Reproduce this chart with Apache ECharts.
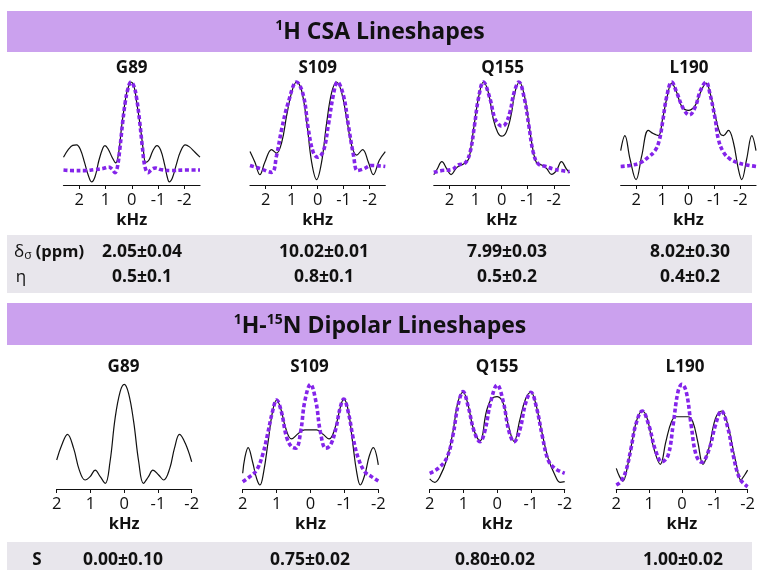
<!DOCTYPE html>
<html>
<head>
<meta charset="utf-8">
<script src="https://cdn.jsdelivr.net/npm/echarts@6/dist/echarts.min.js"></script>
<style>
html,body{margin:0;padding:0;background:#fff;}
#chart{width:758px;height:570px;}
</style>
</head>
<body>
<div id="chart"></div>
<script>
// ---------- data ----------
const residues = ['G89', 'S109', 'Q155', 'L190'];
const tickValues = [2, 1, 0, -1, -2];
const csaDelta = ['2.05±0.04', '10.02±0.01', '7.99±0.03', '8.02±0.30'];
const csaEta = ['0.5±0.1', '0.8±0.1', '0.5±0.2', '0.4±0.2'];
const dipS = ['0.00±0.10', '0.75±0.02', '0.80±0.02', '1.00±0.02'];

// 1H CSA lineshapes: [kHz, normalized intensity]
const csaG89Exp = [[2.6,0.27],[2.4,0.35],[2.25,0.385],[2.1,0.39],[1.95,0.34],[1.8,0.22],[1.65,0.09],[1.53,0.03],[1.4,0.08],[1.25,0.24],[1.1,0.36],[1.02,0.383],[0.9,0.35],[0.75,0.27],[0.61,0.214],[0.5,0.31],[0.38,0.58],[0.27,0.78],[0.19,0.9],[0.1,0.97],[0.03,1.0],[-0.05,0.98],[-0.12,0.92],[-0.19,0.8],[-0.28,0.65],[-0.36,0.5],[-0.45,0.32],[-0.53,0.22],[-0.65,0.24],[-0.8,0.33],[-0.96,0.383],[-1.1,0.34],[-1.25,0.2],[-1.35,0.08],[-1.43,0.03],[-1.55,0.07],[-1.7,0.2],[-1.85,0.32],[-2.04,0.39],[-2.2,0.37],[-2.4,0.32],[-2.6,0.27]];
const csaG89Sim = [[2.6,0.145],[2.2,0.14],[1.8,0.14],[1.4,0.15],[1.1,0.16],[0.88,0.175],[0.75,0.155],[0.64,0.12],[0.55,0.17],[0.45,0.36],[0.35,0.6],[0.25,0.8],[0.15,0.93],[0.03,1.0],[-0.08,0.96],[-0.18,0.85],[-0.3,0.62],[-0.4,0.38],[-0.5,0.18],[-0.62,0.12],[-0.75,0.15],[-0.9,0.165],[-1.1,0.15],[-1.5,0.14],[-2.0,0.145],[-2.6,0.145]];
const csaS109Exp = [[2.6,0.325],[2.41,0.22],[2.22,0.1],[2.03,0.22],[1.77,0.344],[1.58,0.31],[1.38,0.415],[1.19,0.675],[1.0,0.9],[0.81,1.0],[0.62,0.92],[0.42,0.61],[0.23,0.22],[0.04,0.052],[-0.15,0.22],[-0.35,0.61],[-0.54,0.9],[-0.73,1.0],[-0.92,0.9],[-1.12,0.64],[-1.31,0.38],[-1.5,0.29],[-1.73,0.344],[-1.95,0.22],[-2.14,0.1],[-2.37,0.24],[-2.6,0.325]];
const csaS109Sim = [[2.6,0.19],[2.22,0.16],[1.77,0.123],[1.58,0.286],[1.38,0.545],[1.13,0.8],[0.81,1.0],[0.55,0.87],[0.36,0.545],[0.17,0.318],[0,0.27],[-0.22,0.33],[-0.41,0.58],[-0.6,0.87],[-0.76,1.0],[-0.99,0.87],[-1.18,0.58],[-1.38,0.286],[-1.53,0.14],[-1.76,0.156],[-2.08,0.19],[-2.6,0.18]];
const csaQ155Exp = [[2.6,0.1],[2.48,0.15],[2.29,0.227],[2.1,0.156],[1.94,0.1],[1.72,0.17],[1.46,0.205],[1.27,0.25],[1.15,0.415],[1.02,0.64],[0.87,0.87],[0.7,1.0],[0.51,0.9],[0.32,0.64],[0.15,0.51],[0,0.474],[-0.17,0.51],[-0.36,0.675],[-0.51,0.9],[-0.68,1.0],[-0.87,0.87],[-1.02,0.64],[-1.17,0.383],[-1.34,0.214],[-1.53,0.195],[-1.72,0.162],[-1.91,0.104],[-2.1,0.14],[-2.29,0.227],[-2.48,0.156],[-2.6,0.117]];
const csaQ155Sim = [[2.6,0.123],[2.29,0.14],[1.91,0.15],[1.66,0.195],[1.4,0.214],[1.21,0.318],[1.04,0.58],[0.89,0.84],[0.7,1.0],[0.45,0.84],[0.28,0.66],[0.13,0.594],[0,0.57],[-0.15,0.594],[-0.32,0.71],[-0.48,0.9],[-0.66,1.0],[-0.87,0.84],[-1.04,0.58],[-1.21,0.318],[-1.4,0.205],[-1.66,0.182],[-1.97,0.156],[-2.29,0.14],[-2.6,0.13]];
const csaL190Exp = [[2.6,0.334],[2.44,0.48],[2.24,0.25],[2.01,0.052],[1.79,0.286],[1.54,0.53],[1.35,0.5],[1.15,0.48],[0.99,0.643],[0.83,0.84],[0.64,0.99],[0.45,0.9],[0.26,0.766],[0,0.724],[-0.26,0.77],[-0.47,0.9],[-0.68,0.99],[-0.86,0.87],[-1.03,0.675],[-1.22,0.5],[-1.35,0.48],[-1.54,0.53],[-1.73,0.415],[-1.92,0.156],[-2.05,0.052],[-2.24,0.25],[-2.44,0.48],[-2.6,0.334]];
const csaL190Sim = [[2.6,0.18],[2.24,0.19],[1.86,0.214],[1.54,0.27],[1.28,0.334],[1.12,0.43],[0.99,0.61],[0.83,0.86],[0.64,1.0],[0.45,0.9],[0.19,0.74],[-0.04,0.68],[-0.26,0.755],[-0.47,0.92],[-0.68,1.0],[-0.83,0.886],[-1.03,0.643],[-1.15,0.448],[-1.35,0.318],[-1.6,0.253],[-1.92,0.214],[-2.24,0.195],[-2.6,0.18]];

// 1H-15N dipolar lineshapes
const dipG89Exp = [[2.0,0.277],[1.85,0.42],[1.68,0.522],[1.5,0.39],[1.33,0.18],[1.16,0.086],[1.01,0.118],[0.86,0.18],[0.71,0.118],[0.56,0.054],[0.42,0.26],[0.27,0.675],[0.12,0.93],[0,1.0],[-0.13,0.914],[-0.28,0.643],[-0.43,0.26],[-0.57,0.054],[-0.72,0.118],[-0.85,0.18],[-1.02,0.134],[-1.17,0.086],[-1.35,0.197],[-1.49,0.39],[-1.64,0.522],[-1.81,0.436],[-2.0,0.26]];
const dipS109Exp = [[2.0,0.15],[1.94,0.293],[1.84,0.395],[1.71,0.26],[1.59,0.1],[1.49,0.038],[1.38,0.166],[1.25,0.452],[1.12,0.74],[1.0,0.85],[0.88,0.77],[0.73,0.58],[0.56,0.478],[0.36,0.53],[0.17,0.564],[0,0.564],[-0.18,0.564],[-0.37,0.522],[-0.55,0.478],[-0.75,0.61],[-0.88,0.78],[-0.98,0.86],[-1.11,0.755],[-1.24,0.452],[-1.36,0.166],[-1.47,0.038],[-1.6,0.134],[-1.73,0.31],[-1.85,0.395],[-2.0,0.23]];
const dipS109Sim = [[2.0,0.07],[1.79,0.118],[1.59,0.18],[1.4,0.34],[1.25,0.548],[1.12,0.74],[1.0,0.85],[0.86,0.74],[0.71,0.5],[0.56,0.404],[0.43,0.39],[0.29,0.548],[0.17,0.834],[0,1.0],[-0.16,0.834],[-0.29,0.548],[-0.45,0.39],[-0.59,0.42],[-0.75,0.58],[-0.87,0.77],[-0.98,0.86],[-1.11,0.74],[-1.26,0.484],[-1.41,0.293],[-1.6,0.166],[-1.8,0.118],[-2.0,0.076]];
const dipQ155Exp = [[2.0,0.096],[1.85,0.064],[1.7,0.118],[1.5,0.277],[1.31,0.548],[1.16,0.834],[1.01,0.924],[0.86,0.8],[0.71,0.58],[0.51,0.459],[0.32,0.74],[0.17,0.86],[0,0.882],[-0.18,0.817],[-0.33,0.61],[-0.5,0.452],[-0.67,0.66],[-0.84,0.86],[-1.0,0.924],[-1.14,0.817],[-1.32,0.548],[-1.51,0.293],[-1.71,0.134],[-1.86,0.064],[-2.0,0.07]];
const dipQ155Sim = [[2.0,0.15],[1.75,0.197],[1.5,0.293],[1.31,0.516],[1.16,0.8],[1.01,0.93],[0.86,0.787],[0.68,0.548],[0.51,0.452],[0.37,0.548],[0.19,0.834],[0,0.994],[-0.18,0.834],[-0.35,0.548],[-0.5,0.452],[-0.67,0.564],[-0.84,0.817],[-1.0,0.924],[-1.17,0.77],[-1.34,0.5],[-1.51,0.277],[-1.71,0.197],[-2.0,0.15]];
const dipL190Exp = [[2.0,0.197],[1.9,0.118],[1.8,0.076],[1.65,0.23],[1.5,0.484],[1.36,0.675],[1.21,0.745],[1.06,0.675],[0.86,0.39],[0.66,0.236],[0.49,0.452],[0.32,0.643],[0.17,0.69],[0,0.69],[-0.18,0.69],[-0.33,0.643],[-0.48,0.452],[-0.64,0.236],[-0.82,0.39],[-1.02,0.675],[-1.2,0.745],[-1.37,0.643],[-1.51,0.452],[-1.66,0.23],[-1.79,0.086],[-1.91,0.134],[-2.0,0.18]];
const dipL190Sim = [[2.0,0.038],[1.85,0.076],[1.7,0.18],[1.55,0.39],[1.41,0.61],[1.21,0.745],[1.01,0.61],[0.81,0.373],[0.61,0.26],[0.42,0.325],[0.27,0.61],[0.12,0.93],[0,1.0],[-0.13,0.93],[-0.28,0.61],[-0.43,0.325],[-0.6,0.255],[-0.82,0.373],[-1.02,0.61],[-1.2,0.745],[-1.4,0.58],[-1.56,0.325],[-1.76,0.1],[-2.0,0.022]];

// ---------- layout ----------
const FONT = '"Open Sans", "Noto Sans", sans-serif';
const PURPLE_BAND = '#cba1ee';
const GRAY_BAND = '#e8e6ec';
const SIM_COLOR = '#8424ea';

const panels = [
  {exp: csaG89Exp, sim: csaG89Sim, left: 63.5, width: 136.5, top: 82, height: 103, range: 2.6},
  {exp: csaS109Exp, sim: csaS109Sim, left: 250, width: 135.3, top: 82, height: 103, range: 2.6},
  {exp: csaQ155Exp, sim: csaQ155Sim, left: 433.8, width: 135.7, top: 82, height: 103, range: 2.6},
  {exp: csaL190Exp, sim: csaL190Sim, left: 620.7, width: 135.3, top: 82, height: 103, range: 2.6},
  {exp: dipG89Exp, sim: null, left: 56.7, width: 135, top: 384.3, height: 104.7, range: 2},
  {exp: dipS109Exp, sim: dipS109Sim, left: 242.7, width: 135.6, top: 384.3, height: 104.7, range: 2},
  {exp: dipQ155Exp, sim: dipQ155Sim, left: 429.7, width: 135, top: 384.3, height: 104.7, range: 2},
  {exp: dipL190Exp, sim: dipL190Sim, left: 616.3, width: 134.4, top: 384.3, height: 104.7, range: 2}
];

const grid = [], xAxis = [], yAxis = [], series = [];
panels.forEach((p, i) => {
  grid.push({left: p.left, top: p.top, width: p.width, height: p.height, containLabel: false});
  xAxis.push({
    type: 'value', gridIndex: i, inverse: true, min: -p.range, max: p.range,
    axisLine: {show: true, onZero: false, lineStyle: {color: '#111', width: 1.2}},
    axisTick: {show: true, length: 4, customValues: tickValues, lineStyle: {color: '#111', width: 1}},
    axisLabel: {show: true, customValues: tickValues, margin: 7, fontSize: 16.5, color: '#111', fontFamily: FONT},
    splitLine: {show: false},
    name: 'kHz', nameLocation: 'middle', nameGap: 27,
    nameTextStyle: {fontSize: 16.5, fontWeight: 'bold', color: '#111', fontFamily: FONT}
  });
  yAxis.push({type: 'value', gridIndex: i, min: 0, max: 1, show: false});
  series.push({
    type: 'line', xAxisIndex: i, yAxisIndex: i, data: p.exp, smooth: 0.4, symbol: 'none', clip: false,
    lineStyle: {color: '#111', width: 1.2}, z: 2
  });
  if (p.sim) {
    series.push({
      type: 'line', xAxisIndex: i, yAxisIndex: i, data: p.sim, smooth: 0.4, symbol: 'none', clip: false,
      lineStyle: {color: SIM_COLOR, width: 3.6, type: [4, 2.5]}, z: 3
    });
  }
});

const topCenters = [131.7, 317.7, 502.5, 689];
const botCenters = [123.5, 309.5, 497, 685];
const csaValCenters = [142, 324, 507, 690];
const dipValCenters = [123, 310, 495, 683];

function txt(x, y, text, opts) {
  return {
    type: 'text', x: x, y: y, z: 10,
    style: Object.assign({
      text: text, fill: '#111', font: 'bold 17px ' + FONT,
      textAlign: 'center', textVerticalAlign: 'middle'
    }, opts || {})
  };
}
const VAL_FONT = 'bold 17.5px ' + FONT;

const graphic = [
  {type: 'rect', shape: {x: 7, y: 11, width: 745, height: 41}, style: {fill: PURPLE_BAND}, z: 0},
  {type: 'rect', shape: {x: 7, y: 235, width: 745, height: 58}, style: {fill: GRAY_BAND}, z: 0},
  {type: 'rect', shape: {x: 7, y: 303, width: 745, height: 42}, style: {fill: PURPLE_BAND}, z: 0},
  {type: 'rect', shape: {x: 7, y: 542, width: 745, height: 30}, style: {fill: GRAY_BAND}, z: 0},
  txt(380, 32, '{sup|1}{t|H CSA Lineshapes}', {
    rich: {
      sup: {fontSize: 14, fontWeight: 'bold', fontFamily: FONT, fill: '#111', verticalAlign: 'top', lineHeight: 26},
      t: {fontSize: 23, fontWeight: 'bold', fontFamily: FONT, fill: '#111', lineHeight: 26}
    }
  }),
  txt(380, 326, '{sup|1}{t|H-}{sup|15}{t|N Dipolar Lineshapes}', {
    rich: {
      sup: {fontSize: 14, fontWeight: 'bold', fontFamily: FONT, fill: '#111', verticalAlign: 'top', lineHeight: 26},
      t: {fontSize: 23, fontWeight: 'bold', fontFamily: FONT, fill: '#111', lineHeight: 26}
    }
  }),
  txt(49, 252, '{d|δ}{s|σ}{p| (ppm)}', {
    rich: {
      d: {fontSize: 17, fontFamily: FONT, fill: '#111', lineHeight: 20},
      s: {fontSize: 12, fontFamily: FONT, fill: '#111', verticalAlign: 'bottom', lineHeight: 20},
      p: {fontSize: 16.5, fontWeight: 'bold', fontFamily: FONT, fill: '#111', lineHeight: 20}
    }
  }),
  txt(21, 277, 'η', {font: '17px ' + FONT}),
  txt(37, 560, 'S', {font: 'bold 17px ' + FONT})
];
residues.forEach((r, i) => {
  graphic.push(txt(topCenters[i], 68, r));
  graphic.push(txt(botCenters[i], 367, r));
  graphic.push(txt(csaValCenters[i], 252, csaDelta[i], {font: VAL_FONT}));
  graphic.push(txt(csaValCenters[i], 277, csaEta[i], {font: VAL_FONT}));
  graphic.push(txt(dipValCenters[i], 560, dipS[i], {font: VAL_FONT}));
});

const chart = echarts.init(document.getElementById('chart'), null, {renderer: 'canvas'});
chart.setOption({
  backgroundColor: '#fff',
  animation: false,
  grid: grid, xAxis: xAxis, yAxis: yAxis, series: series, graphic: graphic
});
</script>
</body>
</html>
